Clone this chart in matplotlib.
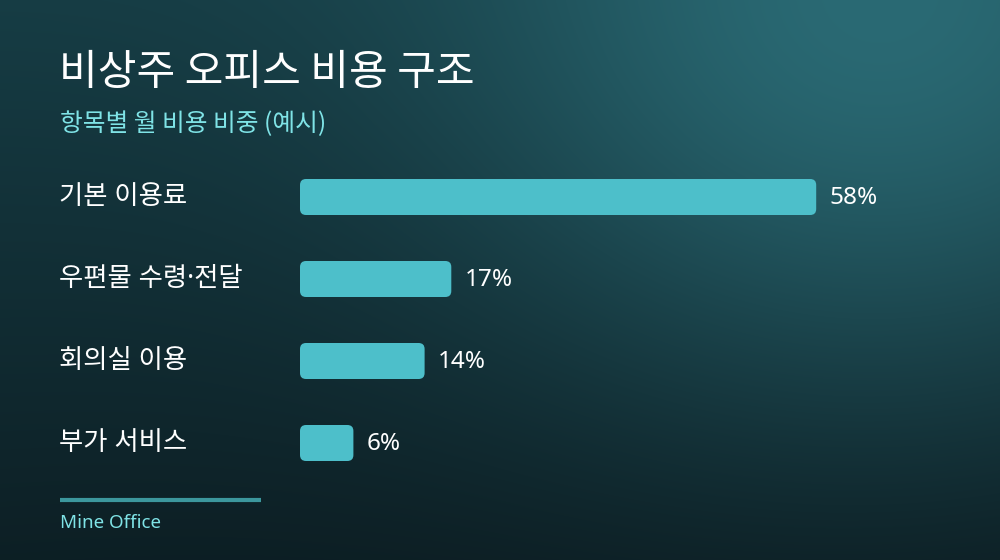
import numpy as np
import matplotlib
matplotlib.use("Agg")
import matplotlib.pyplot as plt
from matplotlib.patches import FancyBboxPatch

plt.rcParams['font.family'] = ['Noto Sans CJK KR', 'DejaVu Sans']

# data
categories = ["기본 이용료", "우편물 수령·전달", "회의실 이용", "부가 서비스"]
shares = [58, 17, 14, 6]
value_labels = ["58%", "17%", "14%", "6%"]
title = "비상주 오피스 비용 구조"
subtitle = "항목별 월 비용 비중 (예시)"
source = "Mine Office"

W, H = 1000, 560
fig = plt.figure(figsize=(W / 100, H / 100), dpi=100)

# background: vertical fade plus a glow in the top right corner
bg = fig.add_axes([0, 0, 1, 1])
bg.set_axis_off()
yy, xx = np.mgrid[0:H, 0:W]
s = np.clip((yy / H) * 0.85 + (xx / W) * 0.15, 0, 1)[..., None]
top = np.array([22, 60, 68]) / 255
bottom = np.array([11, 26, 31]) / 255
img = top * (1 - s) + bottom * s
r = np.sqrt((xx - 880) ** 2 + ((yy + 10) * 1.1) ** 2)
g = np.exp(-(r / 420) ** 2)[..., None]
glow = np.array([42, 106, 116]) / 255
img = img * (1 - g) + glow * g
bg.imshow(img, extent=[0, W, H, 0], aspect='auto')
bg.set_xlim(0, W)
bg.set_ylim(H, 0)

def fx(px):
    return px / W

def fy(py):
    return 1 - py / H

fig.text(fx(59), fy(73), title, fontsize=30.3, color='white',
         va='center', ha='left')
fig.text(fx(60), fy(124), subtitle, fontsize=17.8, color='#7fe3e6',
         va='center', ha='left')

# bar axes: 1% = 8.9 px, each row 82 px
px_per_pct = 8.9
row_px = 82
top_px = 156
ax = fig.add_axes([fx(300), fy(top_px + row_px * len(categories)),
                   (W - 300) / W, row_px * len(categories) / H])
ax.set_axis_off()
ax.set_xlim(0, (W - 300) / px_per_pct)
ax.set_ylim(len(categories) - 0.5, -0.5)

bar_h = 36 / row_px
radius_px = 6
for i, v in enumerate(shares):
    p = FancyBboxPatch((0, i - bar_h / 2), v, bar_h,
                       boxstyle=f"round,pad=0,rounding_size={radius_px / px_per_pct}",
                       mutation_aspect=px_per_pct / row_px,
                       facecolor='#4dbfca', edgecolor='none')
    ax.add_patch(p)
    ax.text(v + 13 / px_per_pct, i + 1 / row_px, value_labels[i], fontsize=17.5,
            color='white', va='center', ha='left',
            family=['Noto Sans', 'DejaVu Sans'])
    # Noto Sans first so the middle dot stays narrow; hangul falls back to CJK
    fig.text(fx(59), fy(top_px + row_px * i + 41), categories[i], fontsize=19,
             color='white', va='center', ha='left',
             family=['Noto Sans', 'Noto Sans CJK KR'])

# footer
bg.plot([60, 261], [500, 500], color='#3c979d', lw=3, solid_capstyle='butt')
fig.text(fx(60), fy(523), source, fontsize=13.5, color='#7fe3e6',
         va='center', ha='left', family=['Noto Sans', 'DejaVu Sans'])

fig.savefig("out.png", dpi=100)
